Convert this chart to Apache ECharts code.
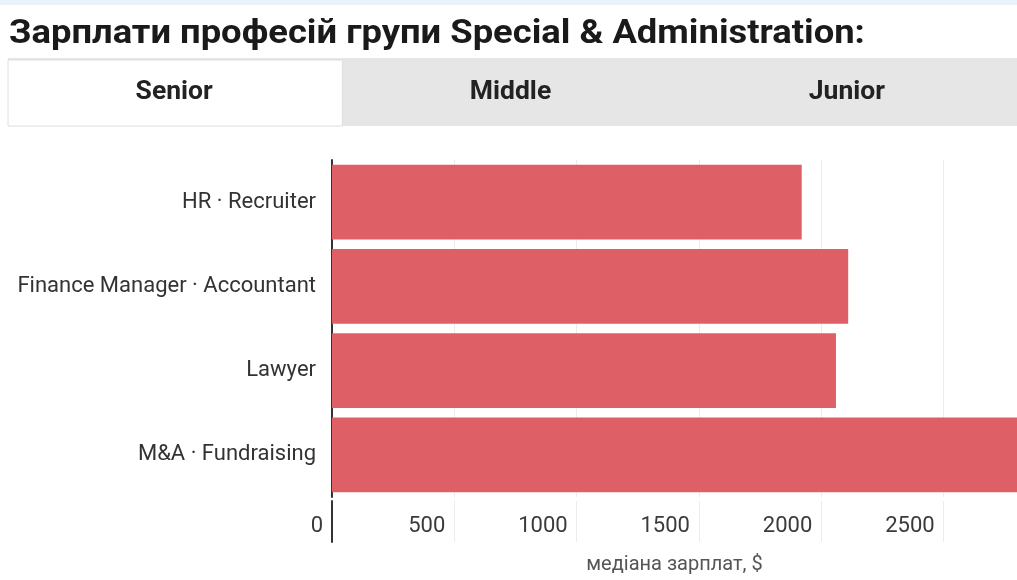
<!DOCTYPE html>
<html>
<head>
<meta charset="utf-8">
<title>Зарплати професій групи Special &amp; Administration</title>
<script src="https://cdn.jsdelivr.net/npm/echarts@6/dist/echarts.min.js"></script>
<style>
  html, body { margin: 0; padding: 0; background: #fff; }
  #chart { width: 1017px; height: 580px; }
</style>
</head>
<body>
<div id="chart"></div>
<script>
// Median salaries of the Special & Administration group, Senior level
const professions = ['HR · Recruiter', 'Finance Manager · Accountant', 'Lawyer', 'M&A · Fundraising'];
const medianSalary = [1920, 2110, 2060, 2950];
const levelTabs = ['Senior', 'Middle', 'Junior'];
const axisMax = 2800;
const axisStep = 500;

const font = 'Roboto, "Noto Sans", sans-serif';
const chart = echarts.init(document.getElementById('chart'), null, { renderer: 'canvas' });

// Tab strip above the plot (first tab is the active one)
const tabLeft = 8, tabRight = 1017, tabTop = 58, tabBottom = 126;
const tabW = (tabRight - tabLeft) / levelTabs.length;
const tabGraphics = [
  { type: 'rect', shape: { x: 0, y: 0, width: 1017, height: 5 }, style: { fill: '#eaf2fb' }, silent: true },
  { type: 'rect', shape: { x: tabLeft, y: tabTop, width: tabRight - tabLeft, height: tabBottom - tabTop }, style: { fill: '#e6e6e6' }, silent: true },
  { type: 'rect', shape: { x: tabLeft, y: tabTop + 2, width: tabW - 2, height: tabBottom - tabTop - 2 }, style: { fill: '#ffffff', stroke: '#dedede', lineWidth: 1 }, silent: true },
  {
    type: 'text', x: 9, y: 34, scaleX: 1.07,
    style: { text: 'Зарплати професій групи Special & Administration:', font: 'bold 34px ' + font, fill: '#1a1a1a', verticalAlign: 'middle' },
    silent: true
  }
];
levelTabs.forEach(function (name, i) {
  tabGraphics.push({
    type: 'text',
    x: tabLeft + tabW * i + tabW / 2 - 2,
    y: (tabTop + tabBottom) / 2 + 1,
    scaleX: 1.06,
    style: { text: name, font: 'bold 25px ' + font, fill: '#222', align: 'center', verticalAlign: 'middle' },
    silent: true
  });
});

chart.setOption({
  animation: false,
  graphic: tabGraphics,
  grid: [
    { left: 332, right: 0, top: 160, height: 341 },
    { left: 332, right: 0, top: 501, height: 41 }
  ],
  xAxis: [
    {
      type: 'value', gridIndex: 0, min: 0, max: axisMax, interval: axisStep,
      name: 'медіана зарплат, $', nameLocation: 'middle', nameGap: 58,
      nameTextStyle: { fontFamily: font, fontSize: 20, color: '#555' },
      axisLine: { show: false }, axisTick: { show: false },
      axisLabel: {
        showMaxLabel: false, align: 'right', padding: [0, 9, 0, 0], margin: 18,
        fontFamily: font, fontSize: 22, color: '#3a3a3a',
        formatter: function (v) { return String(v); }
      },
      splitLine: { show: true, lineStyle: { color: '#ececec', width: 1 } }
    },
    {
      type: 'value', gridIndex: 1, min: 0, max: axisMax, interval: axisStep,
      axisLine: { show: false }, axisTick: { show: false }, axisLabel: { show: false },
      splitLine: { show: true, lineStyle: { color: '#ececec', width: 1 } }
    }
  ],
  yAxis: [
    {
      type: 'category', gridIndex: 0, data: professions, inverse: true,
      axisLine: { show: true, lineStyle: { color: '#333', width: 2 } },
      axisTick: { show: false },
      axisLabel: { margin: 16, fontFamily: font, fontSize: 22, color: '#333', padding: [0, 0, 6, 0] }
    },
    {
      type: 'category', gridIndex: 1, data: [''],
      axisLine: { show: true, lineStyle: { color: '#333', width: 2 } },
      axisTick: { show: false }, axisLabel: { show: false }
    }
  ],
  series: [{
    type: 'bar',
    xAxisIndex: 0, yAxisIndex: 0,
    data: medianSalary,
    barCategoryGap: '11%',
    itemStyle: { color: '#de6066' },
    clip: true
  }]
});
</script>
</body>
</html>
